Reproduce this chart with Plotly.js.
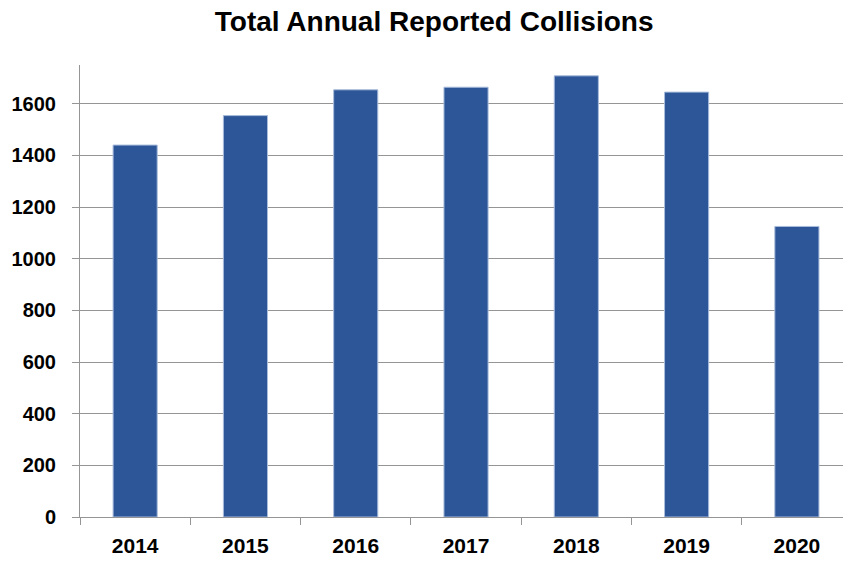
<!DOCTYPE html>
<html>
<head>
<meta charset="utf-8">
<script src="https://cdn.plot.ly/plotly-3.0.1.min.js"></script>
<style>html,body{margin:0;padding:0;background:#fff;}#chart{width:843px;height:562px;}</style>
</head>
<body>
<div id="chart"></div>
<script>
const years = ["2014", "2015", "2016", "2017", "2018", "2019", "2020"];
const collisions = [1440, 1554, 1654, 1664, 1708, 1645, 1125];
const yTicks = [0, 200, 400, 600, 800, 1000, 1200, 1400, 1600];

const font = "'Liberation Sans', Arial, sans-serif";

Plotly.newPlot("chart", [{
  type: "bar",
  x: years,
  y: collisions,
  width: 0.4,
  marker: {color: "#2c5697", line: {color: "#a9bcdc", width: 1}},
  hoverinfo: "x+y"
}], {
  width: 843,
  height: 562,
  paper_bgcolor: "#ffffff",
  plot_bgcolor: "#ffffff",
  margin: {l: 80, r: 0, t: 65, b: 45, pad: 0},
  title: {
    text: "<b>Total Annual Reported Collisions</b>",
    font: {family: font, size: 28, color: "#000"},
    x: 0.515, xanchor: "center", y: 0.962, yanchor: "middle"
  },
  xaxis: {
    type: "category",
    range: [-0.5, 6.418],
    tickson: "boundaries",
    ticks: "outside",
    ticklen: 7,
    tickcolor: "#959595",
    showline: true,
    linecolor: "#959595",
    linewidth: 1,
    showgrid: false,
    tickfont: {family: font, size: 21, color: "#000", weight: "bold"},
    ticklabelstandoff: 10
  },
  yaxis: {
    range: [0, 1750],
    tickvals: yTicks,
    ticktext: yTicks.map(String),
    ticks: "outside",
    ticklen: 7,
    tickcolor: "#959595",
    showline: true,
    linecolor: "#959595",
    linewidth: 1,
    showgrid: true,
    gridcolor: "#959595",
    gridwidth: 1,
    zeroline: false,
    tickfont: {family: font, size: 20, color: "#000", weight: "bold"},
    ticklabelstandoff: 12
  },
  showlegend: false,
  bargap: 0.6
}, {displayModeBar: false, staticPlot: true});
</script>
</body>
</html>
